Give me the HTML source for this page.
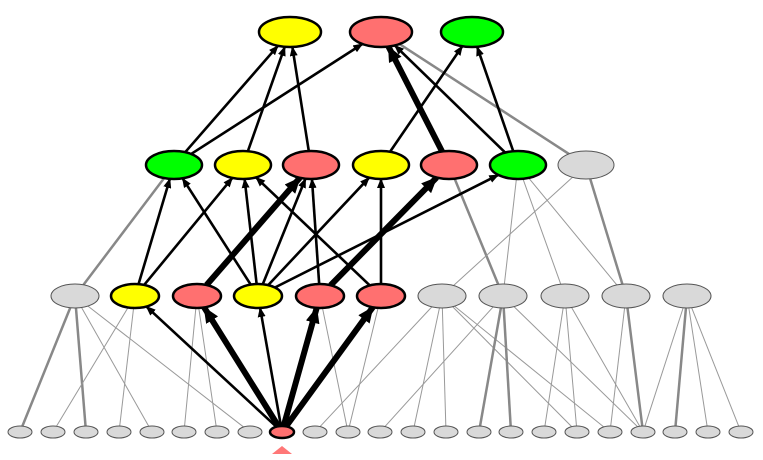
<!DOCTYPE html>
<html><head><meta charset="utf-8"><style>html,body{margin:0;padding:0;background:#fff;width:763px;height:460px;overflow:hidden}</style></head>
<body>
<svg id="s" width="763" height="460" xmlns="http://www.w3.org/2000/svg">
<defs>
<marker id="a1" markerUnits="userSpaceOnUse" markerWidth="10" markerHeight="8" refX="9" refY="4" orient="auto"><path d="M0,0 L10,4 L0,8 z" fill="#000"/></marker>
<marker id="a2" markerUnits="userSpaceOnUse" markerWidth="16" markerHeight="14" refX="15" refY="7" orient="auto"><path d="M0,0 L16,7 L0,14 z" fill="#000"/></marker>
</defs>
<g id="e"></g><g id="n"></g>
<polygon points="282,446 272,454 292,454" fill="#f77"/>
</svg>
<script>
const N={},Y='#ffff00',R='#ff7070',G='#00ff00',Gr='#d9d9d9';
function add(k,x,y,rx,ry,c){N[k]={x,y,rx,ry,c};}
add('t1',290,32,31,15,Y);add('t2',381,32,31,15,R);add('t3',472,32,31,15,G);
[[174,G],[243,Y],[311,R],[381,Y],[449,R],[518,G],[586,Gr]].forEach((v,i)=>add('m'+i,v[0],165,28,14,v[1]));
[[75,Gr],[135,Y],[197,R],[258,Y],[320,R],[381,R],[442,Gr],[503,Gr],[565,Gr],[626,Gr],[687,Gr]].forEach((v,i)=>add('l'+i,v[0],296,24,12,v[1]));
const bx=[20,53,86,119,152,184,217,250,282,315,348,380,413,446,479,511,544,577,610,643,675,708,741];
bx.forEach((x,i)=>add('b'+i,x,432,12,6,i==8?R:Gr));
function bpt(n,dx,dy){const t=1/Math.sqrt(dx*dx/(n.rx*n.rx)+dy*dy/(n.ry*n.ry));return [n.x+dx*t,n.y+dy*t];}
const eg=document.getElementById('e');let h='';
function E(a,b,type){const A=N[a],B=N[b];const dx=B.x-A.x,dy=B.y-A.y;
 const p=bpt(A,dx,dy),q=bpt(B,-dx,-dy);
 let st;
 if(type=='b')st='stroke="#000" stroke-width="2.6" marker-end="url(#a1)"';
 else if(type=='B')st='stroke="#000" stroke-width="6" marker-end="url(#a2)"';
 else if(type=='g')st='stroke="#888" stroke-width="2.5"';
 else st='stroke="#999" stroke-width="1"';
 h+=`<line x1="${p[0]}" y1="${p[1]}" x2="${q[0]}" y2="${q[1]}" ${st}/>`;}
[['t2','m6','g'],['m0','l0','g'],['m4','l7','g'],['m5','l7','t'],['m5','l8','t'],['m5','l9','t'],['m6','l6','t'],['m6','l9','g'],
['l0','b0','g'],['l0','b2','g'],['l0','b4','t'],['l0','b7','t'],['l1','b1','t'],['l1','b3','t'],['l2','b5','t'],['l2','b6','t'],
['l4','b10','t'],['l5','b10','t'],['l6','b9','t'],['l6','b12','t'],['l6','b13','t'],['l6','b17','t'],['l6','b18','t'],
['l7','b11','t'],['l7','b14','g'],['l7','b15','g'],['l7','b19','t'],['l8','b16','t'],['l8','b17','t'],['l8','b19','t'],
['l9','b18','t'],['l9','b19','g'],['l10','b19','t'],['l10','b20','g'],['l10','b21','t'],['l10','b22','t']].forEach(e=>E(...e));
[['m0','t1','b'],['m0','t2','b'],['m1','t1','b'],['m2','t1','b'],['m3','t3','b'],['m4','t2','B'],['m5','t2','b'],['m5','t3','b'],
['l1','m0','b'],['l1','m1','b'],['l2','m2','B'],['l3','m0','b'],['l3','m1','b'],['l3','m2','b'],['l3','m3','b'],['l3','m5','b'],
['l4','m2','b'],['l4','m4','B'],['l5','m1','b'],['l5','m3','b'],
['b8','l1','b'],['b8','l2','B'],['b8','l3','b'],['b8','l4','B'],['b8','l5','B']].forEach(e=>E(...e));
eg.innerHTML=h;
let nh='';for(const k in N){const n=N[k];const g=n.c==Gr;
nh+=`<ellipse cx="${n.x}" cy="${n.y}" rx="${n.rx}" ry="${n.ry}" fill="${n.c}" stroke="${g?'#555':'#000'}" stroke-width="${g?1:2.5}"/>`;}
document.getElementById('n').innerHTML=nh;
</script>
</body></html>
